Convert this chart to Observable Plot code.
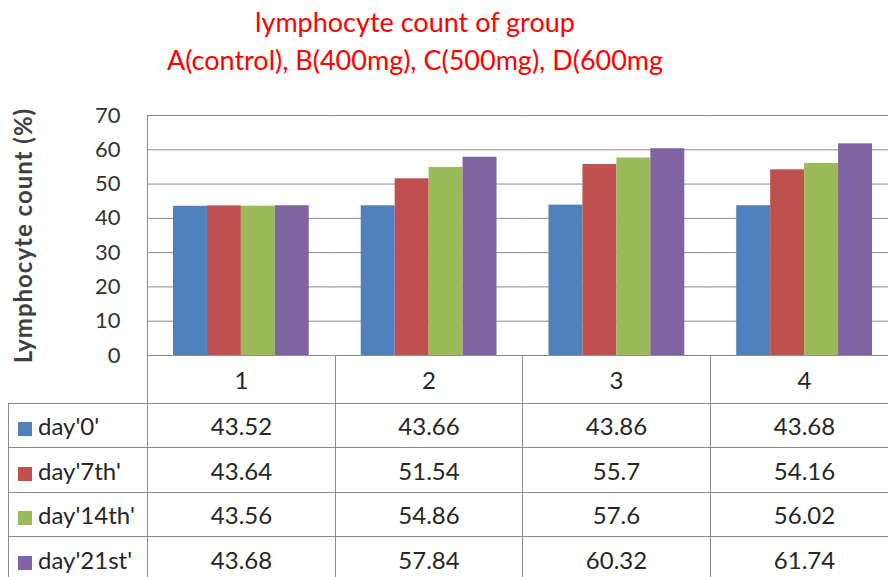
<!DOCTYPE html>
<html><head><meta charset="utf-8">
<script src="https://cdn.jsdelivr.net/npm/d3@7"></script>
<script src="https://cdn.jsdelivr.net/npm/@observablehq/plot@0.6"></script>
<style>
html,body{margin:0;padding:0;background:#fff;overflow:hidden;}
#wrap{position:relative;width:888px;height:577px;overflow:hidden;font-family:Lato,"Open Sans",sans-serif;}
#title{position:absolute;left:0;top:3px;width:830px;text-align:center;color:#ff0000;font-size:27px;line-height:38px;}
#chart{position:absolute;left:0;top:95px;}
#tbl{position:absolute;left:8px;top:355px;width:890px;border-collapse:collapse;table-layout:fixed;font-size:24px;color:#262626;}
#tbl td{border:1px solid #8c8c8c;text-align:center;padding:0;white-space:nowrap;}
#tbl tr.head td{border-top:none;height:48px;}
#tbl tr.head td.blank{border:none;}
#tbl td.leg{text-align:left;padding-left:9px;}
#tbl td.leg span.sw{display:inline-block;width:14px;height:14px;margin-right:6px;vertical-align:-1px;}
</style>
</head><body>
<div id="wrap">
  <div id="title"></div>
  <div id="chart"></div>
  <table id="tbl"></table>
</div>
<script>
// ---- data ----
const titleLines = ["lymphocyte count of group", "A(control), B(400mg), C(500mg), D(600mg"];
const yLabel = "Lymphocyte count (%)";
const categories = ["1", "2", "3", "4"];
const seriesNames = ["day'0'", "day'7th'", "day'14th'", "day'21st'"];
const day0Values = [43.52, 43.66, 43.86, 43.68];
const day7Values = [43.64, 51.54, 55.7, 54.16];
const day14Values = [43.56, 54.86, 57.6, 56.02];
const day21Values = [43.68, 57.84, 60.32, 61.74];
const seriesColors = ["#4F81BD", "#C0504D", "#9BBB59", "#8064A2"];
const yTicks = [0, 10, 20, 30, 40, 50, 60, 70];

const seriesValues = [day0Values, day7Values, day14Values, day21Values];
const rows = [];
seriesNames.forEach((s, i) => categories.forEach((c, j) => rows.push({category: c, series: s, value: seriesValues[i][j]})));

// ---- title ----
document.getElementById("title").innerHTML = titleLines.map(t => `<div>${t}</div>`).join("");

// ---- chart ----
const chart = Plot.plot({
  width: 888, height: 262,
  marginTop: 20, marginBottom: 2, marginLeft: 147, marginRight: -10,
  style: {fontFamily: "Lato, 'Open Sans', sans-serif", fontSize: "22px", color: "#333", background: "transparent", overflow: "visible"},
  fx: {domain: categories, padding: 0, axis: null, round: false},
  x: {domain: seriesNames, paddingInner: 0, paddingOuter: 0.765, axis: null, round: false},
  y: {domain: [0, 70]},
  color: {domain: seriesNames, range: seriesColors},
  marks: [
    Plot.gridY(yTicks, {stroke: "#8c8c8c", strokeOpacity: 1}),
    Plot.barY(rows, {fx: "category", x: "series", y: "value", fill: "series"}),
    Plot.axisY(yTicks, {tickSize: 0, tickPadding: 27, label: yLabel, labelAnchor: "center", labelArrow: "none", labelOffset: 133}),
    Plot.frame({anchor: "left", facet: "super", stroke: "#8c8c8c"})
  ]
});
document.getElementById("chart").appendChild(chart);
chart.querySelectorAll("text").forEach(t => {
  if (t.textContent.trim() === yLabel) {
    t.style.fontWeight = "bold";
    t.style.fontSize = "24px";
    t.style.letterSpacing = "1px";
    t.style.fill = "#404040";
  }
});

// ---- data table ----
const colWidths = [139, 188, 187, 188, 188];
const tbl = document.getElementById("tbl");
let html = "<colgroup>" + colWidths.map(w => `<col style="width:${w}px">`).join("") + "</colgroup>";
html += `<tr class="head"><td class="blank"></td>${categories.map(c => `<td>${c}</td>`).join("")}</tr>`;
const rowHeights = [44, 45, 44, 45];
seriesNames.forEach((s, i) => {
  html += `<tr style="height:${rowHeights[i]}px"><td class="leg"><span class="sw" style="background:${seriesColors[i]}"></span>${s}</td>` +
    seriesValues[i].map(v => `<td>${v}</td>`).join("") + "</tr>";
});
tbl.innerHTML = html;
</script>
</body></html>
